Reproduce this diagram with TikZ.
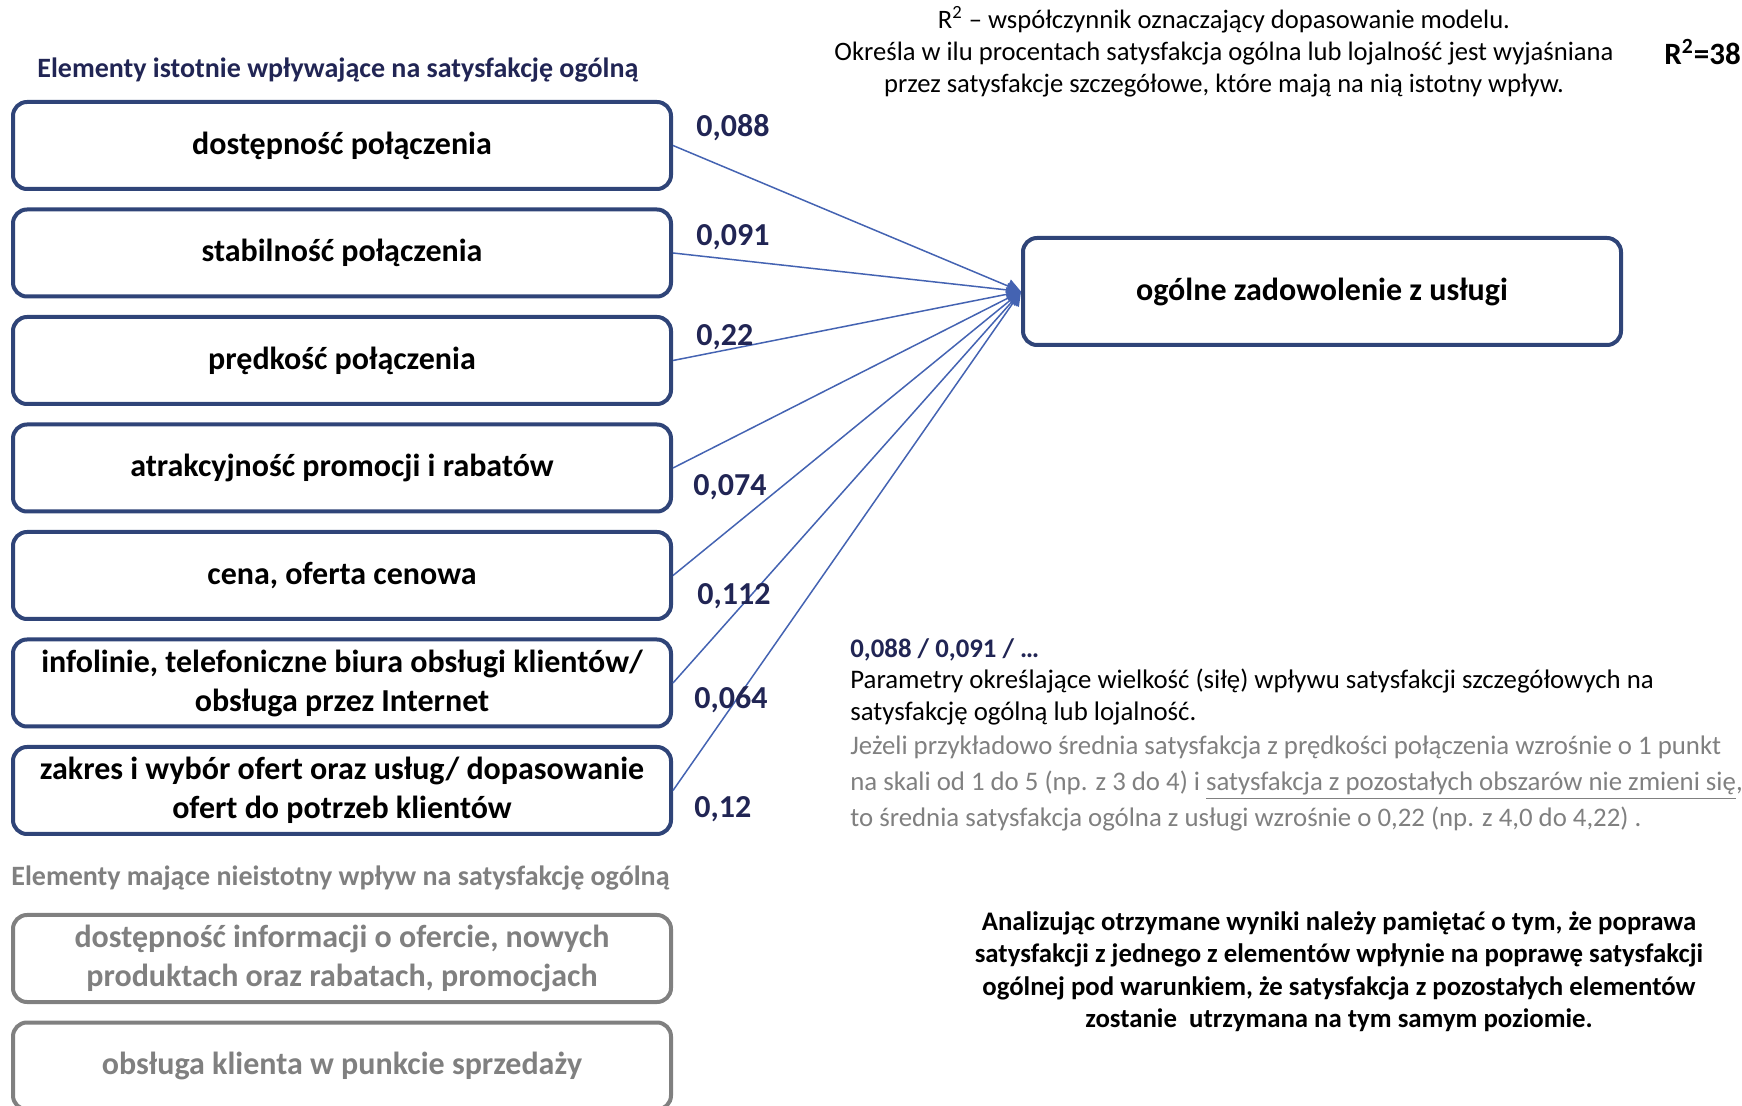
\documentclass[tikz,border=0pt]{standalone}
\usepackage{fontspec}
\setmainfont{Carlito}
\usetikzlibrary{arrows.meta}
\definecolor{ramka}{RGB}{47,68,120}
\definecolor{granat}{RGB}{33,37,84}
\definecolor{strzalka}{RGB}{68,99,178}
\definecolor{szary}{RGB}{128,128,128}

\begin{document}
\begin{tikzpicture}[x=0.5pt,y=-0.5pt,
        element/.style={draw=ramka, line width=2pt, rounded corners=7pt, minimum width=329pt, minimum height=43.5pt, inner sep=0pt, align=center, font=\bfseries\fontsize{16}{19.5}\selectfont},
        nieistotny/.style={element, draw=szary, text=szary},
        waga/.style={anchor=west, inner sep=0pt, text=granat, font=\bfseries\fontsize{16}{18}\selectfont},
        wplyw/.style={draw=strzalka, line width=0.75pt, -{Triangle[length=7pt,width=7pt]}}]
            \useasboundingbox (0,0) rectangle (1742,1106);
            % naglowki
            \node[anchor=west, inner sep=0pt, text=granat, font=\bfseries\fontsize{14}{16}\selectfont] (nag1) at (37,70) {Elementy istotnie wpływające na satysfakcję ogólną};
            \node[anchor=west, inner sep=0pt, text=szary, font=\bfseries\fontsize{14}{16}\selectfont] (nag2) at (11,878) {Elementy mające nieistotny wpływ na satysfakcję ogólną};
            % elementy
            \node[element] (e1) at (342,145.5) {dostępność połączenia};
            \node[element] (e2) at (342,253) {stabilność połączenia};
            \node[element] (e3) at (342,360.5) {prędkość połączenia};
            \node[element] (e4) at (342,468) {atrakcyjność promocji i rabatów};
            \node[element] (e5) at (342,575.5) {cena, oferta cenowa};
            \node[element] (e6) at (342,683) {infolinie, telefoniczne biura obsługi klientów/\\obsługa przez Internet};
            \node[element] (e7) at (342,790.5) {zakres i wybór ofert oraz usług/ dopasowanie\\ofert do potrzeb klientów};
            \node[nieistotny] (n1) at (342,958.5) {dostępność informacji o ofercie, nowych\\produktach oraz rabatach, promocjach};
            \node[nieistotny] (n2) at (342,1066) {obsługa klienta w punkcie sprzedaży};
            \node[element, minimum width=299pt, minimum height=53.5pt] (cel) at (1322,291.5) {ogólne zadowolenie z usługi};
            % polaczenia
            \draw[wplyw] (e1.east) -- (cel.west);
            \draw[wplyw] (e2.east) -- (cel.west);
            \draw[wplyw] (e3.east) -- (cel.west);
            \draw[wplyw] (e4.east) -- (cel.west);
            \draw[wplyw] (e5.east) -- (cel.west);
            \draw[wplyw] (e6.east) -- (cel.west);
            \draw[wplyw] (e7.east) -- (cel.west);
            % wagi
            \node[waga] (w1) at (696,128) {0,088};
            \node[waga] (w2) at (696,237) {0,091};
            \node[waga] (w3) at (696,337) {0,22};
            \node[waga] (w4) at (693,487) {0,074};
            \node[waga] (w5) at (697,596) {0,112};
            \node[waga] (w6) at (694,700) {0,064};
            \node[waga] (w7) at (694,809) {0,12};
            % opisy
            \node[align=center, inner sep=0pt, font=\fontsize{13.3}{16}\selectfont] (r2opis) at (1224,52) {R\textsuperscript{2} – współczynnik oznaczający dopasowanie modelu.\\Określa w ilu procentach satysfakcja ogólna lub lojalność jest wyjaśniana\\przez satysfakcje szczegółowe, które mają na nią istotny wpływ.};
            \node[anchor=west, inner sep=0pt, font=\bfseries\fontsize{15.5}{16}\selectfont] (r2) at (1664,52) {R\textsuperscript{2}=38};
            \node[anchor=west, inner sep=0pt, text=granat, font=\bfseries\fontsize{13.4}{16}\selectfont] (par) at (850,650) {0,088 / 0,091 / …};
            \node[anchor=west, align=left, inner sep=0pt, font=\fontsize{13.4}{16}\selectfont] (parop) at (850,697) {Parametry określające wielkość (siłę) wpływu satysfakcji szczegółowych na\\satysfakcję ogólną lub lojalność.};
            \node[anchor=west, align=left, inner sep=0pt, text=szary, font=\fontsize{13.4}{18}\selectfont] (przyklad) at (850,784) {Jeżeli przykładowo średnia satysfakcja z prędkości połączenia wzrośnie o 1 punkt\\na skali od 1 do 5 (np. z 3 do 4) i \underline{satysfakcja z pozostałych obszarów nie zmieni się},\\to średnia satysfakcja ogólna z usługi wzrośnie o 0,22 (np. z 4,0 do 4,22) .};
            \node[align=center, inner sep=0pt, font=\bfseries\fontsize{13.4}{16.2}\selectfont] (uwaga) at (1339,971.5) {Analizując otrzymane wyniki należy pamiętać o tym, że poprawa\\satysfakcji z jednego z elementów wpłynie na poprawę satysfakcji\\ogólnej pod warunkiem, że satysfakcja z pozostałych elementów\\zostanie\ \ utrzymana na tym samym poziomie.};
        \end{tikzpicture}
\end{document}
